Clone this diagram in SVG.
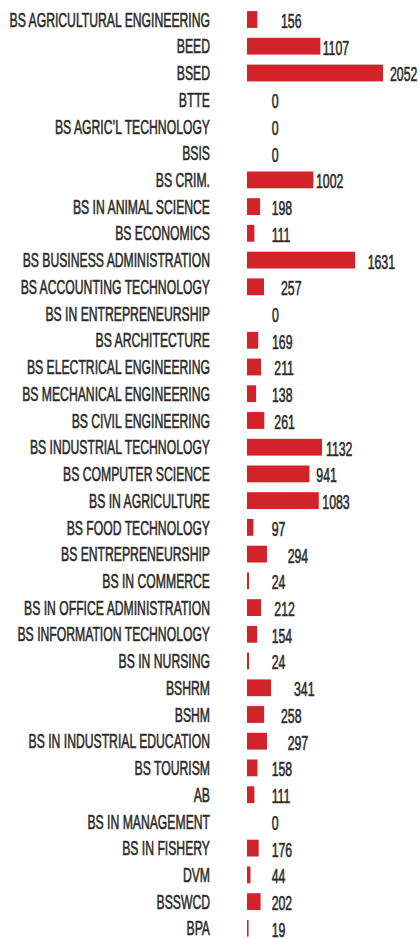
<svg xmlns="http://www.w3.org/2000/svg" width="420" height="939" viewBox="0 0 420 939">
<style>
.bg{fill:#ffffff}
.bar{fill:#d2232a}
.lbl{font-family:"Liberation Sans",Arial,sans-serif;font-size:20px;fill:#2b2b2b;stroke:#2b2b2b;stroke-width:0.6px;text-anchor:end}
.val{font-family:"Liberation Sans",Arial,sans-serif;font-size:19.5px;fill:#2b2b2b;stroke:#2b2b2b;stroke-width:0.6px}
</style>
<rect class="bg" x="0" y="0" width="420" height="939"/>
<g id="row0" transform="translate(0 19.5)"><rect class="bar" x="247" y="-8.4" width="10.3" height="16.8"/><text class="lbl" transform="translate(210 7.1) scale(0.61 1)">BS AGRICULTURAL ENGINEERING</text><text class="val" transform="translate(281 8.4) scale(0.63 1)">156</text></g>
<g id="row1" transform="translate(0 46.2)"><rect class="bar" x="247" y="-8.4" width="73.4" height="16.8"/><text class="lbl" transform="translate(210 7.1) scale(0.61 1)">BEED</text><text class="val" transform="translate(322.7 8.4) scale(0.63 1)">1107</text></g>
<g id="row2" transform="translate(0 73)"><rect class="bar" x="247" y="-8.4" width="136" height="16.8"/><text class="lbl" transform="translate(210 7.1) scale(0.61 1)">BSED</text><text class="val" transform="translate(390 8.4) scale(0.63 1)">2052</text></g>
<g id="row3" transform="translate(0 99.7)"><text class="lbl" transform="translate(210 7.1) scale(0.61 1)">BTTE</text><text class="val" transform="translate(271.7 8.4) scale(0.63 1)">0</text></g>
<g id="row4" transform="translate(0 126.4)"><text class="lbl" transform="translate(210 7.1) scale(0.61 1)">BS AGRIC’L TECHNOLOGY</text><text class="val" transform="translate(271.7 8.4) scale(0.63 1)">0</text></g>
<g id="row5" transform="translate(0 153.2)"><text class="lbl" transform="translate(210 7.1) scale(0.61 1)">BSIS</text><text class="val" transform="translate(271.7 8.4) scale(0.63 1)">0</text></g>
<g id="row6" transform="translate(0 179.9)"><rect class="bar" x="247" y="-8.4" width="66.4" height="16.8"/><text class="lbl" transform="translate(210 7.1) scale(0.61 1)">BS CRIM.</text><text class="val" transform="translate(316 8.4) scale(0.63 1)">1002</text></g>
<g id="row7" transform="translate(0 206.6)"><rect class="bar" x="247" y="-8.4" width="13.1" height="16.8"/><text class="lbl" transform="translate(210 7.1) scale(0.61 1)">BS IN ANIMAL SCIENCE</text><text class="val" transform="translate(271.7 8.4) scale(0.63 1)">198</text></g>
<g id="row8" transform="translate(0 233.3)"><rect class="bar" x="247" y="-8.4" width="7.4" height="16.8"/><text class="lbl" transform="translate(210 7.1) scale(0.61 1)">BS ECONOMICS</text><text class="val" transform="translate(271.7 8.4) scale(0.63 1)">111</text></g>
<g id="row9" transform="translate(0 260.1)"><rect class="bar" x="247" y="-8.4" width="108.1" height="16.8"/><text class="lbl" transform="translate(210 7.1) scale(0.61 1)">BS BUSINESS ADMINISTRATION</text><text class="val" transform="translate(367.7 8.4) scale(0.63 1)">1631</text></g>
<g id="row10" transform="translate(0 286.8)"><rect class="bar" x="247" y="-8.4" width="17" height="16.8"/><text class="lbl" transform="translate(210 7.1) scale(0.61 1)">BS ACCOUNTING TECHNOLOGY</text><text class="val" transform="translate(281 8.4) scale(0.63 1)">257</text></g>
<g id="row11" transform="translate(0 313.5)"><text class="lbl" transform="translate(210 7.1) scale(0.61 1)">BS IN ENTREPRENEURSHIP</text><text class="val" transform="translate(272 8.4) scale(0.63 1)">0</text></g>
<g id="row12" transform="translate(0 340.3)"><rect class="bar" x="247" y="-8.4" width="11.2" height="16.8"/><text class="lbl" transform="translate(210 7.1) scale(0.61 1)">BS ARCHITECTURE</text><text class="val" transform="translate(272 8.4) scale(0.63 1)">169</text></g>
<g id="row13" transform="translate(0 367)"><rect class="bar" x="247" y="-8.4" width="14" height="16.8"/><text class="lbl" transform="translate(210 7.1) scale(0.61 1)">BS ELECTRICAL ENGINEERING</text><text class="val" transform="translate(274.3 8.4) scale(0.63 1)">211</text></g>
<g id="row14" transform="translate(0 393.7)"><rect class="bar" x="247" y="-8.4" width="9.1" height="16.8"/><text class="lbl" transform="translate(210 7.1) scale(0.61 1)">BS MECHANICAL ENGINEERING</text><text class="val" transform="translate(272 8.4) scale(0.63 1)">138</text></g>
<g id="row15" transform="translate(0 420.5)"><rect class="bar" x="247" y="-8.4" width="17.3" height="16.8"/><text class="lbl" transform="translate(210 7.1) scale(0.61 1)">BS CIVIL ENGINEERING</text><text class="val" transform="translate(274.3 8.4) scale(0.63 1)">261</text></g>
<g id="row16" transform="translate(0 447.2)"><rect class="bar" x="247" y="-8.4" width="75" height="16.8"/><text class="lbl" transform="translate(210 7.1) scale(0.61 1)">BS INDUSTRIAL TECHNOLOGY</text><text class="val" transform="translate(326 8.4) scale(0.63 1)">1132</text></g>
<g id="row17" transform="translate(0 473.9)"><rect class="bar" x="247" y="-8.4" width="62.4" height="16.8"/><text class="lbl" transform="translate(210 7.1) scale(0.61 1)">BS COMPUTER SCIENCE</text><text class="val" transform="translate(316.3 8.4) scale(0.63 1)">941</text></g>
<g id="row18" transform="translate(0 500.6)"><rect class="bar" x="247" y="-8.4" width="71.8" height="16.8"/><text class="lbl" transform="translate(210 7.1) scale(0.61 1)">BS IN AGRICULTURE</text><text class="val" transform="translate(322.3 8.4) scale(0.63 1)">1083</text></g>
<g id="row19" transform="translate(0 527.4)"><rect class="bar" x="247" y="-8.4" width="6.4" height="16.8"/><text class="lbl" transform="translate(210 7.1) scale(0.61 1)">BS FOOD TECHNOLOGY</text><text class="val" transform="translate(271.7 8.4) scale(0.63 1)">97</text></g>
<g id="row20" transform="translate(0 554.1)"><rect class="bar" x="247" y="-8.4" width="20" height="16.8"/><text class="lbl" transform="translate(210 7.1) scale(0.61 1)">BS ENTREPRENEURSHIP</text><text class="val" transform="translate(287.7 8.4) scale(0.63 1)">294</text></g>
<g id="row21" transform="translate(0 580.8)"><rect class="bar" x="247" y="-8.4" width="2" height="16.8"/><text class="lbl" transform="translate(210 7.1) scale(0.61 1)">BS IN COMMERCE</text><text class="val" transform="translate(271.7 8.4) scale(0.63 1)">24</text></g>
<g id="row22" transform="translate(0 607.6)"><rect class="bar" x="247" y="-8.4" width="14.1" height="16.8"/><text class="lbl" transform="translate(210 7.1) scale(0.61 1)">BS IN OFFICE ADMINISTRATION</text><text class="val" transform="translate(274.3 8.4) scale(0.63 1)">212</text></g>
<g id="row23" transform="translate(0 634.3)"><rect class="bar" x="247" y="-8.4" width="10.2" height="16.8"/><text class="lbl" transform="translate(210 7.1) scale(0.61 1)">BS INFORMATION TECHNOLOGY</text><text class="val" transform="translate(271.7 8.4) scale(0.63 1)">154</text></g>
<g id="row24" transform="translate(0 661)"><rect class="bar" x="247" y="-8.4" width="2" height="16.8"/><text class="lbl" transform="translate(210 7.1) scale(0.61 1)">BS IN NURSING</text><text class="val" transform="translate(271.7 8.4) scale(0.63 1)">24</text></g>
<g id="row25" transform="translate(0 687.8)"><rect class="bar" x="247" y="-8.4" width="24" height="16.8"/><text class="lbl" transform="translate(210 7.1) scale(0.61 1)">BSHRM</text><text class="val" transform="translate(294 8.4) scale(0.63 1)">341</text></g>
<g id="row26" transform="translate(0 714.5)"><rect class="bar" x="247" y="-8.4" width="17.1" height="16.8"/><text class="lbl" transform="translate(210 7.1) scale(0.61 1)">BSHM</text><text class="val" transform="translate(281 8.4) scale(0.63 1)">258</text></g>
<g id="row27" transform="translate(0 741.2)"><rect class="bar" x="247" y="-8.4" width="20" height="16.8"/><text class="lbl" transform="translate(210 7.1) scale(0.61 1)">BS IN INDUSTRIAL EDUCATION</text><text class="val" transform="translate(287.7 8.4) scale(0.63 1)">297</text></g>
<g id="row28" transform="translate(0 767.9)"><rect class="bar" x="247" y="-8.4" width="10.5" height="16.8"/><text class="lbl" transform="translate(210 7.1) scale(0.61 1)">BS TOURISM</text><text class="val" transform="translate(271.7 8.4) scale(0.63 1)">158</text></g>
<g id="row29" transform="translate(0 794.7)"><rect class="bar" x="247" y="-8.4" width="7.4" height="16.8"/><text class="lbl" transform="translate(210 7.1) scale(0.61 1)">AB</text><text class="val" transform="translate(271.7 8.4) scale(0.63 1)">111</text></g>
<g id="row30" transform="translate(0 821.4)"><text class="lbl" transform="translate(210 7.1) scale(0.61 1)">BS IN MANAGEMENT</text><text class="val" transform="translate(271.7 8.4) scale(0.63 1)">0</text></g>
<g id="row31" transform="translate(0 848.1)"><rect class="bar" x="247" y="-8.4" width="11.7" height="16.8"/><text class="lbl" transform="translate(210 7.1) scale(0.61 1)">BS IN FISHERY</text><text class="val" transform="translate(271.7 8.4) scale(0.63 1)">176</text></g>
<g id="row32" transform="translate(0 874.9)"><rect class="bar" x="247" y="-8.4" width="3.5" height="16.8"/><text class="lbl" transform="translate(210 7.1) scale(0.61 1)">DVM</text><text class="val" transform="translate(271.7 8.4) scale(0.63 1)">44</text></g>
<g id="row33" transform="translate(0 901.6)"><rect class="bar" x="247" y="-8.4" width="13.6" height="16.8"/><text class="lbl" transform="translate(210 7.1) scale(0.61 1)">BSSWCD</text><text class="val" transform="translate(271.7 8.4) scale(0.63 1)">202</text></g>
<g id="row34" transform="translate(0 928.3)"><rect class="bar" x="247" y="-8.4" width="1.6" height="16.8"/><text class="lbl" transform="translate(210 7.1) scale(0.61 1)">BPA</text><text class="val" transform="translate(271.7 8.4) scale(0.63 1)">19</text></g>
<g id="connectors"/>
</svg>
